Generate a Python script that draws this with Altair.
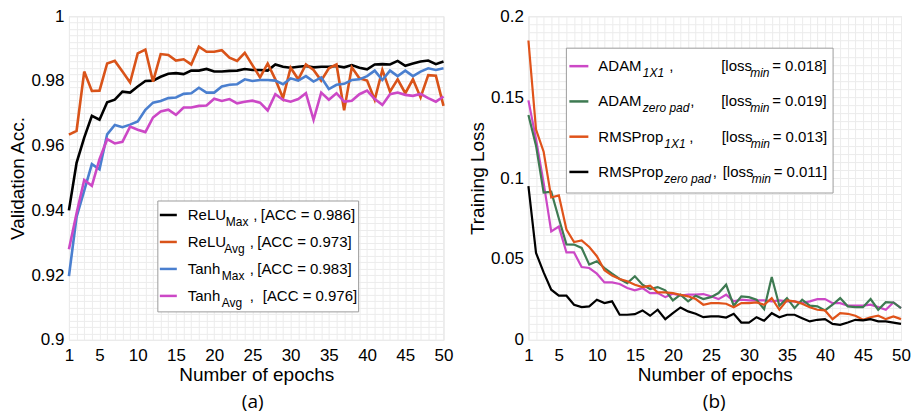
import altair as alt
import pandas as pd

# ---------------- data ----------------
epochs = list(range(1, 51))

relu_max = [0.9400, 0.9547, 0.9625, 0.9692, 0.9680, 0.9734, 0.9742, 0.9767, 0.9764, 0.9783,
            0.9800, 0.9801, 0.9813, 0.9822, 0.9824, 0.9821, 0.9832, 0.9832, 0.9837, 0.9829,
            0.9829, 0.9831, 0.9832, 0.9837, 0.9834, 0.9834, 0.9832, 0.9851, 0.9844, 0.9841,
            0.9844, 0.9846, 0.9842, 0.9844, 0.9844, 0.9846, 0.9842, 0.9849, 0.9841, 0.9836,
            0.9851, 0.9852, 0.9851, 0.9862, 0.9847, 0.9854, 0.9860, 0.9863, 0.9852, 0.9860]
relu_avg = [0.9634, 0.9646, 0.9829, 0.9769, 0.9770, 0.9854, 0.9862, 0.9829, 0.9795, 0.9885,
            0.9897, 0.9798, 0.9883, 0.9880, 0.9863, 0.9867, 0.9851, 0.9906, 0.9890, 0.9890,
            0.9895, 0.9872, 0.9862, 0.9887, 0.9849, 0.9811, 0.9854, 0.9805, 0.9747, 0.9841,
            0.9805, 0.9851, 0.9834, 0.9801, 0.9839, 0.9851, 0.9709, 0.9842, 0.9808, 0.9801,
            0.9742, 0.9834, 0.9767, 0.9805, 0.9762, 0.9805, 0.9749, 0.9818, 0.9816, 0.9723]
tanh_max = [0.9197, 0.9380, 0.9461, 0.9543, 0.9527, 0.9635, 0.9664, 0.9657, 0.9665, 0.9675,
            0.9711, 0.9733, 0.9738, 0.9747, 0.9749, 0.9760, 0.9762, 0.9779, 0.9764, 0.9764,
            0.9783, 0.9788, 0.9790, 0.9805, 0.9800, 0.9803, 0.9803, 0.9801, 0.9790, 0.9808,
            0.9801, 0.9815, 0.9798, 0.9811, 0.9775, 0.9788, 0.9791, 0.9803, 0.9805, 0.9815,
            0.9832, 0.9803, 0.9832, 0.9815, 0.9832, 0.9815, 0.9829, 0.9839, 0.9834, 0.9839]
tanh_avg = [0.9280, 0.9391, 0.9494, 0.9476, 0.9558, 0.9620, 0.9607, 0.9612, 0.9659, 0.9649,
            0.9642, 0.9687, 0.9706, 0.9711, 0.9695, 0.9718, 0.9718, 0.9723, 0.9724, 0.9745,
            0.9738, 0.9744, 0.9731, 0.9736, 0.9739, 0.9733, 0.9709, 0.9759, 0.9742, 0.9736,
            0.9744, 0.9762, 0.9680, 0.9764, 0.9742, 0.9762, 0.9736, 0.9739, 0.9759, 0.9770,
            0.9744, 0.9726, 0.9759, 0.9764, 0.9757, 0.9754, 0.9760, 0.9747, 0.9736, 0.9752]

adam_1x1 = [0.148, 0.124, 0.097, 0.067, 0.070, 0.054, 0.054, 0.045, 0.0444, 0.0409,
            0.0355, 0.0355, 0.0345, 0.032, 0.0306, 0.032, 0.0289, 0.0289, 0.0264, 0.0285,
            0.0273, 0.0279, 0.0279, 0.0283, 0.0269, 0.0252, 0.0279, 0.0238, 0.0248, 0.0244,
            0.0244, 0.0244, 0.0238, 0.0244, 0.0238, 0.0238, 0.0227, 0.0238, 0.0252, 0.0252,
            0.0227, 0.0227, 0.0211, 0.0211, 0.0211, 0.0217, 0.0202, 0.0186, 0.0231, 0.0196]
adam_zero = [0.139, 0.120, 0.091, 0.0915, 0.075, 0.059, 0.0589, 0.0568, 0.0465, 0.0486,
             0.0444, 0.0409, 0.0376, 0.0351, 0.0393, 0.0341, 0.0314, 0.0326, 0.0306, 0.0244,
             0.0279, 0.0238, 0.0273, 0.0252, 0.0264, 0.0289, 0.0341, 0.0211, 0.0269, 0.0264,
             0.0248, 0.0190, 0.0388, 0.0211, 0.0258, 0.0196, 0.0248, 0.0211, 0.0207, 0.0182,
             0.0217, 0.0258, 0.0207, 0.0202, 0.0202, 0.0252, 0.0186, 0.0233, 0.0231, 0.0196]
rms_1x1 = [0.185, 0.130, 0.1163, 0.088, 0.0893, 0.0682, 0.0604, 0.0614, 0.0574, 0.0517,
           0.043, 0.0397, 0.0376, 0.0362, 0.0341, 0.0326, 0.0335, 0.0293, 0.0293, 0.0289,
           0.0279, 0.0269, 0.0252, 0.0217, 0.0227, 0.0227, 0.0223, 0.0202, 0.0227, 0.0227,
           0.0231, 0.0217, 0.0258, 0.0186, 0.0244, 0.0238, 0.0223, 0.0202, 0.0186, 0.0182,
           0.0128, 0.0165, 0.0161, 0.0149, 0.0124, 0.0140, 0.0149, 0.0128, 0.0145, 0.0128]
rms_zero = [0.095, 0.0537, 0.0417, 0.031, 0.0273, 0.0273, 0.0217, 0.0202, 0.0207, 0.0248,
            0.0227, 0.0238, 0.0155, 0.0155, 0.0159, 0.0182, 0.0149, 0.0186, 0.0128, 0.0165,
            0.0200, 0.0176, 0.0161, 0.0140, 0.0145, 0.0145, 0.0138, 0.0161, 0.0107, 0.0107,
            0.0140, 0.0118, 0.0165, 0.0140, 0.0155, 0.0155, 0.0134, 0.0114, 0.0124, 0.0128,
            0.0099, 0.0093, 0.0107, 0.0124, 0.0120, 0.0128, 0.0114, 0.0114, 0.0107, 0.0099]

acc_names = ["ReLU_Max", "ReLU_Avg", "Tanh_Max", "Tanh_Avg"]
acc_main = ["ReLU", "ReLU", "Tanh", "Tanh"]
acc_sub = ["Max", "Avg", "Max", "Avg"]
acc_final = ["0.986", "0.973", "0.983", "0.976"]

loss_names = ["ADAM_1X1", "ADAM_zero", "RMSProp_1X1", "RMSProp_zero"]
loss_main = ["ADAM", "ADAM", "RMSProp", "RMSProp"]
loss_sub = ["1X1", "zero pad", "1X1", "zero pad"]
loss_min = ["0.018", "0.019", "0.013", "0.011"]

x_ticks = epochs
acc_grid = [round(0.9 + 0.002 * k, 3) for k in range(51)]
loss_grid = [round(0.005 * k, 3) for k in range(41)]

# ---------------- style ----------------
acc_colors = ["#000000", "#D95319", "#4A7FCF", "#CC48C6"]
loss_colors = ["#CC48C6", "#3E7A52", "#E0531A", "#000000"]
FONT = "Liberation Sans"
GRID = "#ececec"
FRAME = "#9c9c9c"

acc_series = [relu_max, relu_avg, tanh_max, tanh_avg]
loss_series = [adam_1x1, adam_zero, rms_1x1, rms_zero]

acc_df = pd.DataFrame({
    "epoch": epochs * 4,
    "value": [v for s in acc_series for v in s],
    "series": [n for n in acc_names for _ in epochs],
})
loss_df = pd.DataFrame({
    "epoch": epochs * 4,
    "value": [v for s in loss_series for v in s],
    "series": [n for n in loss_names for _ in epochs],
})


def x_enc():
    return alt.X(
        "epoch:Q",
        scale=alt.Scale(domain=[1, 50], nice=False, zero=False),
        axis=alt.Axis(
            values=x_ticks,
            labelExpr="(datum.value == 1 || datum.value % 5 == 0) ? datum.label : ''",
            grid=True, gridColor=GRID, gridWidth=1, ticks=False, domain=False,
            labelFont=FONT, labelFontSize=17, labelColor="black", labelPadding=8,
            labelOverlap=False, labelFlush=False,
            title="Number of epochs", titleFont=FONT, titleFontSize=19,
            titleFontWeight="normal", titleColor="black", titlePadding=2,
        ),
    )


def y_enc(title, domain, grid_vals, modulo):
    return alt.Y(
        "value:Q",
        scale=alt.Scale(domain=domain, nice=False, zero=False),
        axis=alt.Axis(
            values=grid_vals,
            labelExpr=f"(round(datum.value*1000) % {modulo} == 0) ? format(datum.value, '.2~f') : ''",
            grid=True, gridColor=GRID, gridWidth=1, ticks=False, domain=False,
            labelFont=FONT, labelFontSize=17, labelColor="black", labelPadding=5,
            labelOverlap=False, labelFlush=False,
            title=title, titleFont=FONT, titleFontSize=19,
            titleFontWeight="normal", titleColor="black", titlePadding=3,
        ),
    )


def legend_layers(main, sub, tails, colors, lay):
    n = len(main)
    rows = pd.DataFrame({
        "main": main,
        "sub": sub,
        "color": colors,
        "base": [lay["base0"] + lay["step"] * i for i in range(n)],
    })
    rows["sym"] = rows["base"] - 5
    rows["subbase"] = rows["base"] + 6
    rows["subx"] = lay["subx"]
    layers = []
    box = alt.Chart(pd.DataFrame({"k": [0]})).mark_rect(
        fill="white", stroke=FRAME, strokeWidth=1
    ).encode(x=alt.value(lay["box"][0]), x2=alt.value(lay["box"][1]),
             y=alt.value(lay["box"][2]), y2=alt.value(lay["box"][3]))
    layers.append(box)
    sym = alt.Chart(rows).mark_rule(strokeWidth=2.5).encode(
        x=alt.value(lay["sym"][0]), x2=alt.value(lay["sym"][1]),
        y=alt.Y("sym:Q", scale=None),
        color=alt.Color("color:N", scale=None),
    )
    layers.append(sym)
    main_t = alt.Chart(rows).mark_text(
        align="left", baseline="alphabetic", font=FONT, fontSize=15, color="black"
    ).encode(x=alt.value(lay["mainx"]), y=alt.Y("base:Q", scale=None), text="main:N")
    layers.append(main_t)
    sub_t = alt.Chart(rows).mark_text(
        align="left", baseline="alphabetic", font=FONT, fontSize=12, color="black",
        fontStyle=lay["substyle"]
    ).encode(x=alt.X("subx:Q", scale=None), y=alt.Y("subbase:Q", scale=None), text="sub:N")
    layers.append(sub_t)
    for (field_vals, xs, fs, style, dy) in tails:
        d = rows.copy()
        d["t"] = field_vals
        d["tx"] = xs
        d["ty"] = d["base"] + dy
        layers.append(
            alt.Chart(d).mark_text(
                align="left", baseline="alphabetic", font=FONT, fontSize=fs,
                color="black", fontStyle=style
            ).encode(x=alt.X("tx:Q", scale=None), y=alt.Y("ty:Q", scale=None), text="t:N")
        )
    return layers


# ---------------- left panel ----------------
W1, H = 375, 324
left_lines = alt.Chart(acc_df).mark_line(strokeWidth=2.6).encode(
    x=x_enc(),
    y=y_enc("Validation Acc.", [0.9, 1.0], acc_grid, 20),
    color=alt.Color("series:N", scale=alt.Scale(domain=acc_names, range=acc_colors), legend=None),
    order=alt.Order("epoch:Q"),
)
left_lay = {"box": (89, 290, 185, 296), "sym": (91, 108), "mainx": 119,
            "base0": 204, "step": 27, "subx": [157, 155.5, 153, 153], "substyle": "normal"}
left_tails = [
    ([","] * 4, [184.5, 181, 181, 181], 15, "normal", 0),
    ([f"[ACC = {v}]" for v in acc_final], [192, 188.5, 188.5, 194], 15, "normal", 0),
]
left_caption = alt.Chart(pd.DataFrame({"k": [0]})).mark_text(
    font="Open Sans", fontSize=19, baseline="alphabetic", align="center", color="black"
).encode(x=alt.value(184), y=alt.value(392), text=alt.value("(a)"))

left = alt.layer(
    left_lines, *legend_layers(acc_main, acc_sub, left_tails, acc_colors, left_lay), left_caption
).properties(width=W1, height=H)

# ---------------- right panel ----------------
W2 = 373
right_lines = alt.Chart(loss_df).mark_line(strokeWidth=2.2).encode(
    x=x_enc(),
    y=y_enc("Training Loss", [0.0, 0.2], loss_grid, 50),
    color=alt.Color("series:N", scale=alt.Scale(domain=loss_names, range=loss_colors), legend=None),
    order=alt.Order("epoch:Q"),
)
right_lay = {"box": (38, 305, 32, 177), "sym": (41, 60), "mainx": 70,
             "base0": 55, "step": 35.3, "subx": [114.5, 114.5, 136, 136], "substyle": "italic"}
right_tails = [
    ([","] * 4, [141, 162, 161, 184.5], 15, "normal", 0),
    (["[loss"] * 4, [193, 193, 193.5, 194.5], 15, "normal", 0),
    (["min"] * 4, [222, 222, 222.5, 223.5], 12, "italic", 6),
    ([f"= {v}]" for v in loss_min], [244, 244, 244.5, 245.5], 15, "normal", 0),
]
right_caption = alt.Chart(pd.DataFrame({"k": [0]})).mark_text(
    font="Open Sans", fontSize=19, baseline="alphabetic", align="center", color="black"
).encode(x=alt.value(186), y=alt.value(392), text=alt.value("(b)"))

right = alt.layer(
    right_lines, *legend_layers(loss_main, loss_sub, right_tails, loss_colors, right_lay), right_caption
).properties(width=W2, height=H)

chart = alt.hconcat(left, right, spacing=14).resolve_scale(
    color="independent"
).properties(
    padding={"left": 0, "top": -2, "right": 0, "bottom": 0}
).configure_view(stroke=FRAME, strokeWidth=1).configure(background="white")

chart.save("out.html", embed_options={"renderer": "svg", "actions": False})
